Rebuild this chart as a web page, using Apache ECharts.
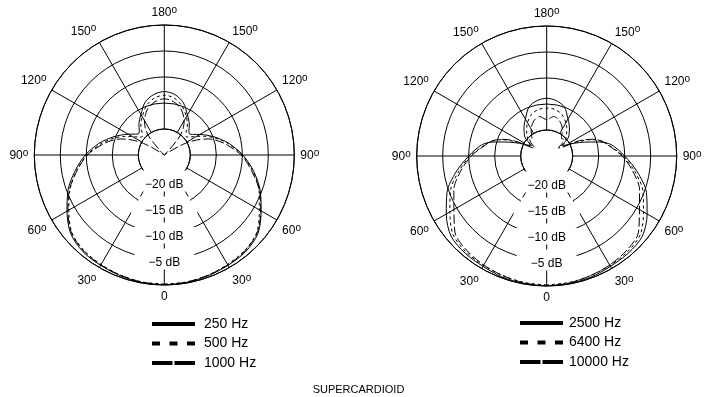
<!DOCTYPE html>
<html>
<head>
<meta charset="utf-8">
<title>Supercardioid polar patterns</title>
<script src="https://cdn.jsdelivr.net/npm/echarts@6/dist/echarts.min.js"></script>
<style>
    html, body { margin: 0; padding: 0; background: #fff; }
    #chart { width: 717px; height: 397px; }
</style>
</head>
<body>
<div id="chart"></div>
<script>
    // angle in degrees, 0 = front of the mic (bottom of each plot)
    const angles = [0, 10, 20, 30, 40, 50, 60, 70, 80, 90, 100, 105, 110, 115, 120, 125, 130, 135, 140, 145, 150, 160, 170, 180,
        190, 200, 210, 215, 220, 225, 230, 235, 240, 245, 250, 255, 260, 270, 280, 290, 300, 310, 320, 330, 340, 350, 360];

    // level in dB
    const left250 = [0, -0.1, -0.3, -0.5, -0.7, -1.5, -3.4, -5.3, -7.6, -9.8, -12.2, -13.5, -14.7, -15.9, -17.0, -18.0, -18.6, -18.2, -17.4, -16.7, -16.0, -14.2, -13.2, -12.8,
        -13.2, -14.3, -16.1, -16.8, -17.5, -18.3, -18.7, -18.1, -17.1, -16.0, -14.8, -13.6, -12.3, -9.9, -7.6, -5.4, -3.5, -1.5, -0.7, -0.5, -0.3, -0.1, 0];
    const left500 = [-0.2, -0.2, -0.4, -0.7, -1.0, -1.8, -3.8, -5.7, -7.9, -10.1, -12.6, -13.9, -15.2, -16.6, -17.9, -19.0, -19.5, -19.0, -18.0, -17.2, -16.5, -14.9, -13.9, -13.5,
        -13.9, -15.0, -16.5, -17.3, -18.1, -19.1, -19.5, -19.0, -17.8, -16.5, -15.1, -13.8, -12.5, -10.0, -7.8, -5.6, -3.9, -1.8, -1.0, -0.7, -0.4, -0.2, -0.2];
    const left1000 = [0, -0.2, -0.4, -0.6, -0.9, -1.7, -3.6, -5.6, -8.0, -10.2, -13.0, -14.4, -16.0, -18.2, -21.0, -24.5, -25, -24.0, -20.5, -18.6, -17.4, -15.6, -14.6, -14.2,
        -14.6, -15.6, -17.4, -18.6, -20.5, -24.0, -25, -24.5, -21.0, -18.2, -16.0, -14.4, -13.0, -10.2, -8.0, -5.6, -3.6, -1.7, -0.9, -0.6, -0.4, -0.2, 0];

    // level in dB
    const right2500 = [0, -0.1, -0.2, -0.5, -0.6, -1.0, -2.7, -4.6, -7.3, -10.0, -12.4, -14.6, -17.2, -19.2, -20.8, -21.5, -19.6, -18.9, -18.2, -17.5, -16.8, -15.0, -14.2, -13.9,
        -14.2, -15.0, -16.8, -17.5, -18.2, -18.9, -19.6, -21.5, -20.8, -19.2, -17.2, -14.6, -12.4, -10.0, -7.3, -4.6, -2.7, -1.0, -0.6, -0.5, -0.2, -0.1, 0];
    const right6400 = [-0.2, -0.3, -0.5, -0.7, -0.9, -1.5, -3.5, -5.3, -7.8, -10.3, -12.9, -14.0, -15.8, -18.6, -21.5, -21.0, -20.3, -19.7, -19.0, -18.3, -17.6, -16.5, -15.9, -15.8,
        -15.9, -16.5, -17.6, -18.3, -19.0, -19.7, -20.3, -21.0, -21.5, -18.6, -15.8, -14.0, -12.9, -10.3, -7.8, -5.3, -3.5, -1.5, -0.9, -0.7, -0.5, -0.3, -0.2];
    const right10000 = [0, -0.2, -0.5, -0.8, -1.2, -2.0, -4.4, -6.0, -8.2, -10.5, -13.0, -14.0, -15.6, -18.0, -21.8, -22.3, -21.0, -20.4, -20.6, -19.9, -19.0, -17.8, -17.3, -18.0,
        -17.3, -17.8, -19.0, -19.9, -20.6, -20.4, -21.0, -22.3, -21.8, -18.0, -15.6, -14.0, -13.0, -10.5, -8.2, -6.0, -4.4, -2.0, -1.2, -0.8, -0.5, -0.2, 0];

    // tick labels
    const angleLabels = ['0', '30', '60', '90', '120', '150', '180', '150', '120', '90', '60', '30'];
    const dbTicks = [-20, -15, -10, -5];
    const dbLabels = ['\u221220 dB', '\u221215 dB', '\u221210 dB', '\u22125 dB'];

    const FONT = '"Liberation Sans", Arial, Helvetica, sans-serif';
    const CENTERS = [[164.3, 155], [546.7, 156]];

    function toPolar(vals) {
        // polar data is [radius, angle]
        return vals.map((v, i) => [v, angles[i]]);
    }

    // polars 0,1: the curves and the dB rings, centre = -25 dB
    // polars 2,3: spokes, outer circle and angle labels, spokes start on the -20 dB ring
    function curveAngleAxis(idx) {
        return {
            polarIndex: idx, type: 'value', min: 0, max: 360, interval: 30,
            startAngle: 270, clockwise: true, show: false
        };
    }

    function gridAngleAxis(idx) {
        return {
            polarIndex: idx,
            type: 'value',
            min: 0,
            max: 360,
            interval: 30,
            startAngle: 270,
            clockwise: true,
            z: 0,
            axisLine: { lineStyle: { color: '#000', width: 1 } },
            axisTick: { show: false },
            splitLine: { show: true, lineStyle: { color: '#000', width: 1 } },
            axisLabel: {
                margin: 6,
                color: '#000',
                fontFamily: FONT,
                fontSize: 12,
                formatter: function (v) {
                    if (v >= 360) return '';
                    if (v === 0) return '{n|0}';
                    return '{n|' + angleLabels[Math.round(v / 30)] + '}{o|o}';
                },
                rich: {
                    n: { fontSize: 12, fontFamily: FONT, color: '#000', verticalAlign: 'bottom' },
                    o: { fontSize: 10, fontFamily: FONT, color: '#000', verticalAlign: 'bottom', padding: [0, 0, 4, 0] }
                }
            }
        };
    }

    function ringRadiusAxis(idx) {
        return {
            polarIndex: idx,
            type: 'value',
            min: -25,
            max: 0,
            interval: 5,
            z: 5,
            axisLine: { show: false },
            axisTick: { show: false },
            splitLine: { show: true, lineStyle: { color: '#000', width: 1 } },
            axisLabel: {
                showMinLabel: false,
                showMaxLabel: false,
                margin: 0,
                align: 'center',
                verticalAlign: 'middle',
                color: '#000',
                backgroundColor: '#fff',
                padding: [0, 7, 0, 7],
                formatter: function (v) {
                    const k = dbTicks.indexOf(v);
                    return k < 0 ? '' : '{t|' + dbLabels[k] + '}';
                },
                rich: {
                    t: {
                        fontSize: 12, fontFamily: FONT, color: '#000', lineHeight: 12,
                        backgroundColor: '#fff', padding: [8, 7, 1, 7]
                    }
                }
            }
        };
    }

    function gridRadiusAxis(idx) {
        return { polarIndex: idx, type: 'value', min: -20, max: 0, interval: 5, show: false };
    }

    function curve(name, idx, vals, dash) {
        return {
            name: name,
            type: 'line',
            coordinateSystem: 'polar',
            polarIndex: idx,
            data: toPolar(vals),
            symbol: 'none',
            smooth: 0.3,
            clip: false,
            z: 6,
            itemStyle: { color: '#000' },
            lineStyle: { color: '#000', width: 1, type: dash }
        };
    }

    const DOTTED = [3, 3];
    const DASHED = [9, 3];

    function legendItems(names) {
        return [
            { name: names[0], lineStyle: { width: 4, type: 'solid' } },
            { name: names[1], lineStyle: { width: 4, type: [8, 9.5] } },
            { name: names[2], lineStyle: { width: 4, type: [20.5, 2] } }
        ];
    }

    function makeLegend(left, top, names, textPad) {
        return {
            orient: 'vertical',
            left: left,
            top: top,
            padding: 0,
            itemWidth: 43,
            itemHeight: 14,
            itemGap: 5.5,
            selectedMode: false,
            itemStyle: { color: 'rgba(0,0,0,0)', borderColor: 'rgba(0,0,0,0)', borderWidth: 0, opacity: 0 },
            textStyle: { fontSize: 14, color: '#000', fontFamily: FONT, padding: [0, 0, 0, textPad] },
            data: legendItems(names)
        };
    }

    const chart = echarts.init(document.getElementById('chart'), null, { renderer: 'canvas' });
    chart.setOption({
        animation: false,
        backgroundColor: '#fff',
        title: {
            text: 'SUPERCARDIOID',
            left: 'center',
            top: 379,
            textStyle: { fontSize: 11, fontWeight: 'normal', color: '#000', fontFamily: FONT }
        },
        polar: [
            { center: CENTERS[0], radius: [0, 130] },
            { center: CENTERS[1], radius: [0, 130] },
            { center: CENTERS[0], radius: [26, 130] },
            { center: CENTERS[1], radius: [26, 130] }
        ],
        angleAxis: [curveAngleAxis(0), curveAngleAxis(1), gridAngleAxis(2), gridAngleAxis(3)],
        radiusAxis: [ringRadiusAxis(0), ringRadiusAxis(1), gridRadiusAxis(2), gridRadiusAxis(3)],
        legend: [
            makeLegend(150, 317, ['250 Hz', '500 Hz', '1000 Hz'], 4),
            makeLegend(518, 316, ['2500 Hz', '6400 Hz', '10000 Hz'], 1)
        ],
        series: [
            curve('250 Hz', 0, left250, 'solid'),
            curve('500 Hz', 0, left500, DOTTED),
            curve('1000 Hz', 0, left1000, DASHED),
            curve('2500 Hz', 1, right2500, 'solid'),
            curve('6400 Hz', 1, right6400, DOTTED),
            curve('10000 Hz', 1, right10000, DASHED)
        ]
    });
</script>
</body>
</html>
